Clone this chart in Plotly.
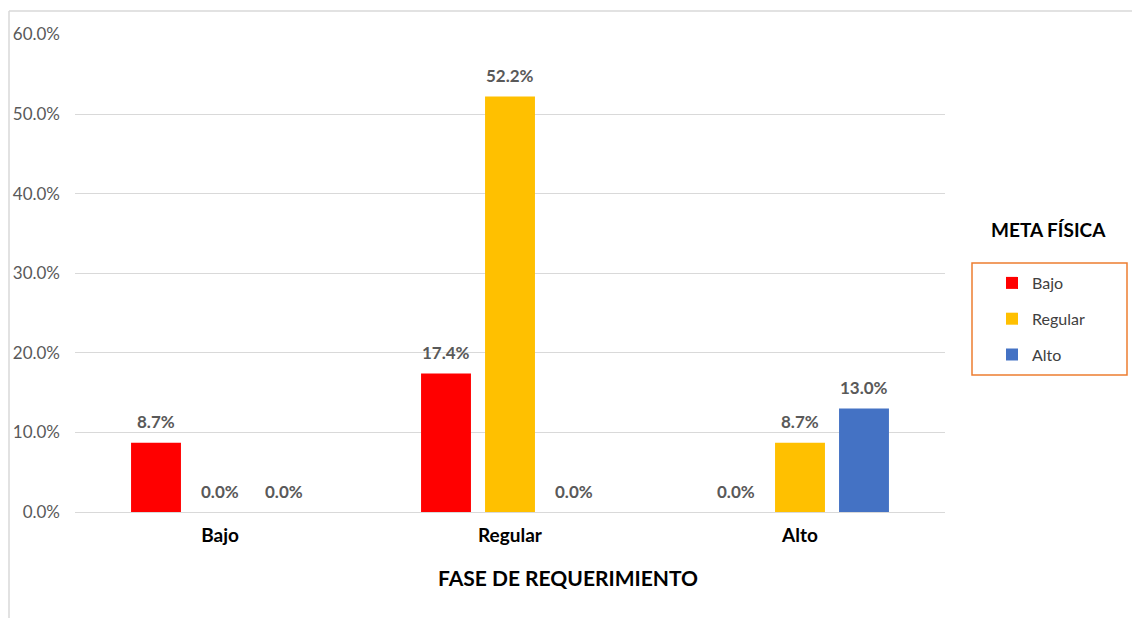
from plotly import graph_objects as go

categories = ["Bajo", "Regular", "Alto"]
series_names = ["Bajo", "Regular", "Alto"]
bajo_values = [8.7, 17.4, 0.0]
regular_values = [0.0, 52.2, 8.7]
alto_values = [0.0, 0.0, 13.0]
tick_values = [0, 10, 20, 30, 40, 50, 60]
tick_labels = ["0.0%", "10.0%", "20.0%", "30.0%", "40.0%", "50.0%", "60.0%"]

colors = ["#FF0000", "#FFC000", "#4472C4"]
FONT = "Lato, 'Open Sans', sans-serif"

W, H = 1132, 618
ML, MT = 75, 34
MR, MB = W - 945, H - 512
PW, PH = W - ML - MR, H - MT - MB


def px_to_paper(x, y):
    # x, y measured on the 1132x618 screenshot
    return (x - ML) / PW, (H - MB - y) / PH


fig = go.Figure()
all_values = [bajo_values, regular_values, alto_values]
for i, (name, vals) in enumerate(zip(series_names, all_values)):
    fig.add_trace(
        go.Bar(
            x=categories,
            y=vals,
            name=name,
            legendgroup=name,
            marker=dict(color=colors[i], line=dict(width=0)),
        )
    )
    # data labels, raised a bit above the bars like Excel does
    for cat, v in zip(categories, vals):
        fig.add_annotation(
            x=cat, y=v, xref="x", yref="y",
            text=f"{v:.1f}%", showarrow=False,
            xshift=(i - 1) * 64, yshift=21,
            xanchor="center", yanchor="middle",
            font=dict(family=FONT, size=17, color="#595959", weight="bold"),
        )

fig.update_layout(
    width=W,
    height=H,
    margin=dict(l=ML, r=MR, t=MT, b=MB),
    paper_bgcolor="white",
    plot_bgcolor="white",
    barmode="group",
    bargap=0.338,
    bargroupgap=0.22,
    font=dict(family=FONT),
    legend=dict(
        x=px_to_paper(992, 0)[0],
        y=px_to_paper(0, 266)[1],
        xanchor="left",
        yanchor="top",
        traceorder="grouped",
        tracegroupgap=12,
        itemwidth=30,
        font=dict(family=FONT, size=16, color="#404040"),
        bgcolor="rgba(0,0,0,0)",
    ),
    showlegend=True,
)

fig.update_yaxes(
    range=[0, 60.05],
    tickvals=tick_values,
    ticktext=tick_labels,
    tickfont=dict(family=FONT, size=17, color="#595959"),
    showgrid=True,
    gridcolor="#D9D9D9",
    gridwidth=1,
    zeroline=True,
    zerolinecolor="#D9D9D9",
    zerolinewidth=1,
    showline=False,
    ticklabelstandoff=14,
)
fig.update_xaxes(
    tickfont=dict(family=FONT, size=19, color="#000000", weight="bold"),
    showline=False,
    showgrid=False,
    ticklabelstandoff=10,
)

# legend frame and chart frame
x0, y0 = px_to_paper(972, 375)
x1, y1 = px_to_paper(1127, 263)
fig.add_shape(type="rect", xref="paper", yref="paper", x0=x0, y0=y0, x1=x1, y1=y1,
              line=dict(color="#ED7D31", width=1.5))
lx, ly_top = px_to_paper(9, 11)
rx, ly_bot = px_to_paper(1140, 630)
fig.add_shape(type="line", xref="paper", yref="paper", x0=lx, y0=ly_top, x1=lx, y1=ly_bot,
              line=dict(color="#D9D9D9", width=1.5))
fig.add_shape(type="line", xref="paper", yref="paper", x0=lx, y0=ly_top, x1=rx, y1=ly_top,
              line=dict(color="#D9D9D9", width=1.5))

tx, ty = px_to_paper(1048, 229)
fig.add_annotation(x=tx, y=ty, xref="paper", yref="paper", text="META FÍSICA", showarrow=False,
                   xanchor="center", yanchor="middle",
                   font=dict(family=FONT, size=19, color="#000000", weight="bold"))
ax, ay = px_to_paper(568, 577)
fig.add_annotation(x=ax, y=ay, xref="paper", yref="paper", text="FASE DE REQUERIMIENTO", showarrow=False,
                   xanchor="center", yanchor="middle",
                   font=dict(family=FONT, size=21, color="#000000", weight="bold"))

# drop the default page margin so the figure sits at the window's corner
fig.write_html(
    "out.html",
    config={"displayModeBar": False},
    post_script="document.body.style.margin='0';document.body.style.overflow='hidden';",
)
